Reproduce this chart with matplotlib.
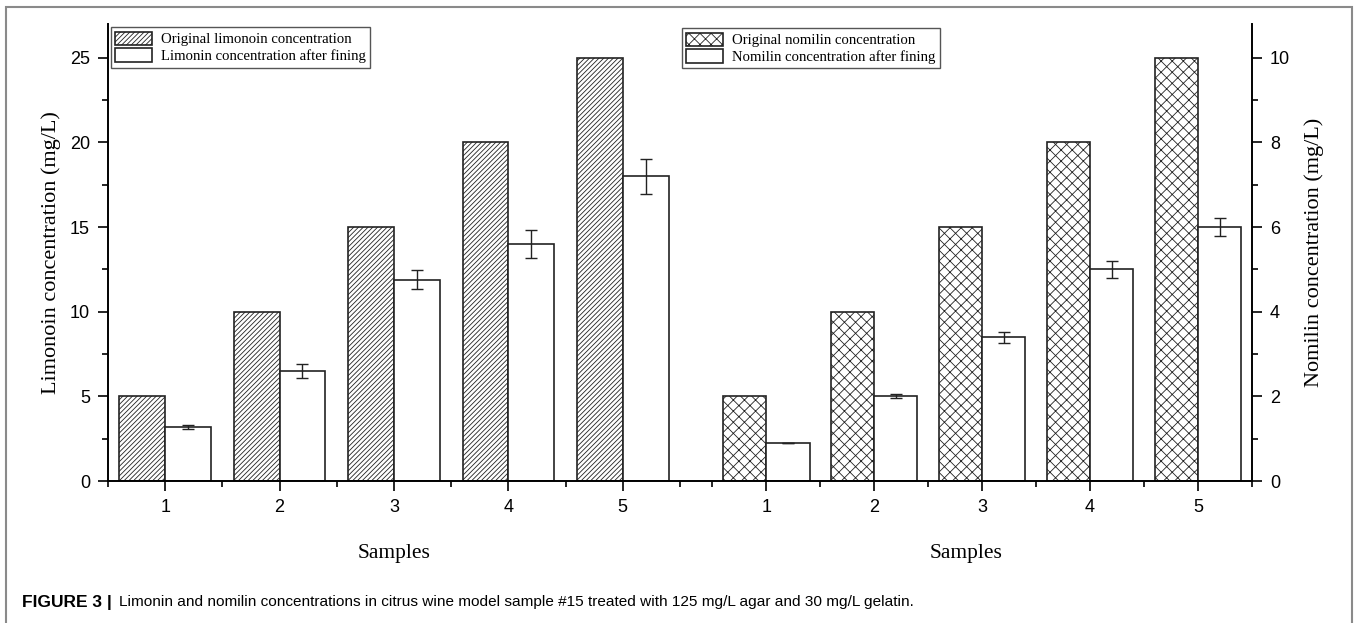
import numpy as np
import matplotlib
matplotlib.use("Agg")
import matplotlib.pyplot as plt
from matplotlib.patches import Rectangle
from matplotlib.ticker import MultipleLocator

samples = [1, 2, 3, 4, 5]
tick_labels = ["1", "2", "3", "4", "5"]

limonin_original = [5, 10, 15, 20, 25]
limonin_fined = [3.2, 6.5, 11.9, 14.0, 18.0]
limonin_fined_err = [0.1, 0.4, 0.55, 0.85, 1.05]

nomilin_original = [2, 4, 6, 8, 10]
nomilin_fined = [0.9, 2.0, 3.4, 5.0, 6.0]
nomilin_fined_err = [0.0, 0.05, 0.13, 0.2, 0.22]

plt.rcParams["hatch.linewidth"] = 0.6
serif = ["Liberation Serif", "DejaVu Serif"]
sans = ["Liberation Sans", "DejaVu Sans"]

fig = plt.figure(figsize=(13.57, 6.23), dpi=100)
x0, xm, x1 = 108 / 1357, 680 / 1357, 1252 / 1357
y0, y1 = 142 / 623, 599 / 623
ax1 = fig.add_axes([x0, y0, xm - x0, y1 - y0])
ax2 = fig.add_axes([xm, y0, x1 - xm, y1 - y0])

w = 0.4
x = np.array(samples)
legend_kw = dict(loc="upper left", prop={"family": serif, "size": 10.6},
                 frameon=True, fancybox=False, edgecolor="#555555",
                 framealpha=1, borderpad=0.3, handlelength=2.5,
                 handleheight=1.05, handletextpad=0.6, labelspacing=0.12,
                 borderaxespad=0)


def style_axis(ax, side):
    for s in ["top", "left", "right"]:
        ax.spines[s].set_visible(s == side)
    for s in ["bottom", side]:
        ax.spines[s].set_linewidth(1.4)
    ax.tick_params(which="major", direction="out", length=7, width=1.2,
                   labelsize=13, pad=6)
    ax.tick_params(which="minor", direction="out", length=4, width=1.2)
    ax.set_xticks(samples)
    ax.set_xticklabels(tick_labels)
    ax.xaxis.set_minor_locator(MultipleLocator(1, offset=0.5))
    for lab in ax.get_xticklabels() + ax.get_yticklabels():
        lab.set_family(sans)
    ax.set_xlabel("Samples", family=serif, fontsize=15.5, labelpad=20)


# left panel: limonin
ax1.bar(x - w / 2, limonin_original, w, facecolor="white", edgecolor="#222222",
        hatch="/" * 7, linewidth=1.2, label="Original limonoin concentration")
ax1.bar(x + w / 2, limonin_fined, w, facecolor="white", edgecolor="#222222",
        linewidth=1.2, label="Limonin concentration after fining")
ax1.errorbar(x + w / 2, limonin_fined, yerr=limonin_fined_err, fmt="none",
             ecolor="#222222", elinewidth=1, capsize=4, capthick=1)
ax1.set_xlim(0.5, 5.5)
ax1.set_ylim(0, 27)
ax1.yaxis.set_major_locator(MultipleLocator(5))
ax1.yaxis.set_minor_locator(MultipleLocator(2.5))
style_axis(ax1, "left")
ax1.set_ylabel("Limonoin concentration (mg/L)", family=serif, fontsize=16,
               labelpad=6)
ax1.legend(bbox_to_anchor=(0.005, 0.993), **legend_kw)

# right panel: nomilin
ax2.bar(x - w / 2, nomilin_original, w, facecolor="white", edgecolor="#222222",
        hatch="xxx", linewidth=1.2, label="Original nomilin concentration")
ax2.bar(x + w / 2, nomilin_fined, w, facecolor="white", edgecolor="#222222",
        linewidth=1.2, label="Nomilin concentration after fining")
ax2.errorbar(x + w / 2, nomilin_fined, yerr=nomilin_fined_err, fmt="none",
             ecolor="#222222", elinewidth=1, capsize=4, capthick=1)
ax2.set_xlim(0.2, 5.5)
ax2.set_ylim(0, 10.8)
ax2.yaxis.tick_right()
ax2.yaxis.set_label_position("right")
ax2.yaxis.set_major_locator(MultipleLocator(2))
ax2.yaxis.set_minor_locator(MultipleLocator(1))
style_axis(ax2, "right")
ax2.set_ylabel("Nomilin concentration (mg/L)", family=serif, fontsize=16,
               labelpad=10, rotation=90)
ax2.legend(bbox_to_anchor=(0.003, 0.991), **legend_kw)

# frame and caption
fig.patches.append(Rectangle((6 / 1357, -10 / 623), 1346 / 1357, 626 / 623,
                             transform=fig.transFigure, fill=False,
                             edgecolor="#8a8a8a", linewidth=1.5))
fig.text(22 / 1357, 21 / 623, "FIGURE 3 |", family=sans, fontsize=12.5,
         fontweight="bold", va="center", ha="left")
fig.text(119 / 1357, 21 / 623,
         "Limonin and nomilin concentrations in citrus wine model sample #15 "
         "treated with 125 mg/L agar and 30 mg/L gelatin.",
         family=sans, fontsize=11.1, va="center", ha="left")

fig.savefig("out.png", dpi=100)
